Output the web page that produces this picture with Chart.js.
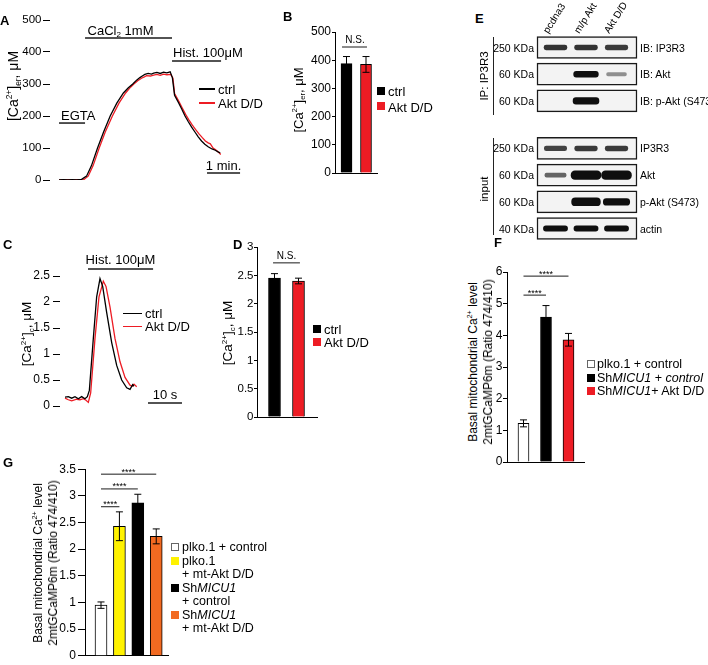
<!DOCTYPE html>
<html><head><meta charset="utf-8">
<script src="https://cdn.jsdelivr.net/npm/chart.js@4.4.1/dist/chart.umd.min.js"></script>
<style>
html,body{margin:0;padding:0;background:#fff}
body{width:708px;height:665px;position:relative;overflow:hidden;font-family:'Liberation Sans',Arial,Helvetica,sans-serif;color:#000}
canvas{position:absolute}
.t{position:absolute;white-space:nowrap}
sup{font-size:0.6em;vertical-align:0.7em;line-height:0}
sub{font-size:0.6em;vertical-align:-0.3em;line-height:0}
.sw{position:absolute;box-sizing:border-box}
</style></head><body>
<script>
// ================= DATA =================
// A: ER Ca2+ traces (time in s, [Ca2+]er in uM)
const aTicks=[0,100,200,300,400,500];
const aCtrlTime=[0,8,16,24,32,41,50,59,70,81,93,105,117,126,134,141,147,152,156,162,168,172,178,184,190,196,202,206,210,217,223,229,235,241,247,253,259,265,271,278,284,289,293];
const aCtrlCa  =[0,1,0,1,0,2,12,45,100,150,200,240,272,288,300,312,320,326,330,333,331,334,336,333,337,335,338,320,265,242,222,200,182,165,150,135,122,112,104,97,93,88,85];
const aAktTime =[0,8,16,24,32,44,53,62,73,84,97,109,121,130,136,143,150,155,159,166,172,178,184,190,196,203,207,210,218,224,230,236,242,248,254,260,266,271,275,280,284,289,294];
const aAktCa   =[0,0,1,0,1,0,12,45,100,150,200,240,272,290,300,310,318,322,326,325,328,330,327,331,329,330,318,270,245,225,205,188,172,158,145,133,122,116,113,100,95,88,80];
// B
const bCategories=['ctrl','Akt D/D'];
const bMeans=[388,385];
const bErr=[25,28];
const bTicks=[0,100,200,300,400,500];
// C: cytosolic Ca2+ traces (time in s, uM)
const cTicks=[0,0.5,1,1.5,2,2.5];
const cCtrlTime=[0,0.98,1.96,2.94,3.92,4.9,5.88,6.57,7.16,8.33,9.31,10.29,11.08,12.25,13.73,15.2,16.67,18.14,19.12,19.9,20.3];
const cCtrlCa  =[0.17,0.18,0.15,0.18,0.14,0.18,0.14,0.18,0.3,1.3,2.1,2.45,2.3,1.8,1.22,0.78,0.5,0.35,0.32,0.41,0.38];
const cAktTime =[0,0.98,1.96,3.43,4.41,5.39,6.18,6.86,7.55,8.82,10,11.27,12.06,13.24,14.7,16.18,17.65,19.12,19.8,20.3,21.08];
const cAktCa   =[0.15,0.12,0.1,0.13,0.12,0.14,0.11,0.07,0.25,1.3,2.1,2.4,2.3,1.9,1.3,0.85,0.55,0.4,0.38,0.42,0.37];
// D
const dCategories=['ctrl','Akt D/D'];
const dMeans=[2.45,2.40];
const dErr=[0.08,0.05];
const dTicks=[0,0.5,1,1.5,2,2.5,3];
// E: western blot (relative band signal per lane; 0 = no band, >1 saturated)
const lanes=['pcdna3','m/p Akt','Akt D/D'];
const blotRows=['IB: IP3R3','IB: Akt','IB: p-Akt (S473)','IP3R3','Akt','p-Akt (S473)','actin'];
const blotMarkers=['250 KDa','60 KDa','60 KDa','250 KDa','60 KDa','60 KDa','40 KDa'];
const blotGroups=['IP: IP3R3','input'];
const pcdna3Signal=[0.8,0,0,0.7,0.5,0,1.0];
const mpAktSignal =[0.8,1.1,1.3,0.75,2.0,1.8,1.0];
const aktDDSignal =[0.75,0.25,0,0.75,2.0,1.4,1.0];
// F
const fCategories=['plko.1 + control','Sh<i>MICU1</i> + <i>control</i>','Sh<i>MICU1</i>+ Akt D/D'];
const fMeans=[1.22,4.58,3.86];
const fErr=[0.11,0.36,0.2];
const fTicks=[0,1,2,3,4,5,6];
const fSignificance=[[0,2,'****'],[0,1,'****']];
// G
const gCategories=[['plko.1 + control'],['plko.1','+ mt-Akt D/D'],['Sh<i>MICU1</i>','+ control'],['Sh<i>MICU1</i>','+ mt-Akt D/D']];
const gMeans=[0.95,2.43,2.87,2.24];
const gErr=[0.06,0.27,0.16,0.14];
const gTicks=[0,0.5,1,1.5,2,2.5,3,3.5];
const gSignificance=[[0,3,'****'],[0,2,'****'],[0,1,'****']];

// ================= STYLE =================
const FONT="'Liberation Sans', Arial, Helvetica, sans-serif";
const RED='#ed1c24', BLACK='#000000', WHITE='#ffffff', YELLOW='#fff200', ORANGE='#f26a21';
Chart.defaults.font.family=FONT;
Chart.defaults.color='#000';

// ================= PLUGINS =================
const errorBars={id:'errorBars',afterDatasetsDraw(chart){
  const ctx=chart.ctx, ys=chart.scales.y;
  chart.data.datasets.forEach((ds,di)=>{
    if(!ds.errors) return;
    const meta=chart.getDatasetMeta(di);
    meta.data.forEach((el,i)=>{
      const v=ds.data[i].y, e=ds.errors[i];
      const x=el.x, yt=ys.getPixelForValue(v+e), yb=ys.getPixelForValue(v-e), cw=ds.capWidth||3.5;
      ctx.save(); ctx.strokeStyle='#000'; ctx.lineWidth=1;
      ctx.beginPath(); ctx.moveTo(x,yb); ctx.lineTo(x,yt);
      ctx.moveTo(x-cw,yt); ctx.lineTo(x+cw,yt); ctx.moveTo(x-cw,yb); ctx.lineTo(x+cw,yb);
      ctx.stroke(); ctx.restore();
    });
  });
}};
const anno={id:'anno',afterDatasetsDraw(chart,args,opts){
  const ctx=chart.ctx, xs=chart.scales.x, ys=chart.scales.y;
  ctx.save();
  for(const l of (opts.lines||[])){
    ctx.strokeStyle=l.c||'#1a1a1a'; ctx.lineWidth=l.w||1.5;
    const y=ys.getPixelForValue(l.y);
    ctx.beginPath(); ctx.moveTo(xs.getPixelForValue(l.x1),y); ctx.lineTo(xs.getPixelForValue(l.x2),y); ctx.stroke();
  }
  for(const t of (opts.texts||[])){
    const fs=t.size||13;
    const segs=(Array.isArray(t.text)?t.text:[{s:t.text}]).map(g=>Object.assign({},g));
    let tot=0;
    for(const g of segs){ctx.font=(g.sub?fs*0.62:fs)+'px '+FONT; g.w=ctx.measureText(g.s).width; tot+=g.w;}
    let x=xs.getPixelForValue(t.x); const y=ys.getPixelForValue(t.y)+(t.dy||0);
    if(t.align==='center') x-=tot/2; else if(t.align==='right') x-=tot;
    ctx.fillStyle='#000'; ctx.textAlign='left'; ctx.textBaseline=t.baseline||'middle';
    for(const g of segs){ctx.font=(g.sub?fs*0.62:fs)+'px '+FONT; ctx.fillText(g.s,x,y+(g.sub?fs*0.28:0)); x+=g.w;}
  }
  ctx.restore();
}};
const blurBands={id:'blurBands',
  beforeDatasetDraw(chart,args){const ds=chart.data.datasets[args.index]; if(ds.blur){chart.ctx.save(); chart.ctx.filter='blur('+ds.blur+'px)';}},
  afterDatasetDraw(chart,args){const ds=chart.data.datasets[args.index]; if(ds.blur) chart.ctx.restore();}};

// ================= HELPERS =================
function place(box,area){
  const c=document.createElement('canvas');
  c.width=box[2]; c.height=box[3];
  Object.assign(c.style,{left:box[0]+'px',top:box[1]+'px',width:box[2]+'px',height:box[3]+'px'});
  document.body.appendChild(c);
  return {cv:c,padding:{left:0,top:area.t-box[1],right:box[0]+box[2]-area.r,bottom:box[1]+box[3]-area.b},yw:area.l-box[0]};
}
function baseOpts(padding,scales,plugins){
  return {responsive:false,maintainAspectRatio:false,animation:false,devicePixelRatio:1,events:[],layout:{padding},scales,
    plugins:Object.assign({legend:{display:false},tooltip:{enabled:false}},plugins||{})};
}
function yScale(min,max,ticks,width,o){
  return {type:'linear',min,max,position:'left',
    afterBuildTicks:s=>{s.ticks=ticks.map(v=>({value:v}));},
    afterFit:s=>{s.width=width;},
    border:{display:o.axis,color:'#000',width:1},
    grid:{display:true,drawOnChartArea:false,drawTicks:true,tickLength:o.tl,color:'#000',lineWidth:1},
    ticks:{font:{size:o.fs},color:'#000',padding:o.pad,callback:v=>String(v)}};
}
function xHidden(min,max){return {type:'linear',min,max,display:false,offset:false};}
function xAxisLine(min,max){return {type:'linear',min,max,offset:false,afterFit:s=>{s.height=0;},
  border:{display:true,color:'#000',width:1},grid:{display:false},ticks:{display:false}};}
const pts=(xs,ys)=>xs.map((t,i)=>({x:t,y:ys[i]}));
const bars=(vals)=>vals.map((v,i)=>({x:i,y:v}));
function T(x,y,html,o){
  o=o||{};
  const d=document.createElement('div'); d.className='t'; d.innerHTML=html;
  const fs=o.fs||13; d.style.fontSize=fs+'px'; d.style.lineHeight=fs+'px';
  if(o.b) d.style.fontWeight='bold';
  d.style.left=x+'px'; d.style.top=y+'px';
  const ax=o.al==='r'?'-100%':o.al==='c'?'-50%':'0';
  d.style.transform=(o.rot!=null)?'translate(-50%,-50%) rotate('+o.rot+'deg)':'translate('+ax+',-50%)';
  if(o.tf){d.style.transform=o.tf; d.style.transformOrigin=o.to||'0 0';}
  document.body.appendChild(d); return d;
}
function R(x,y,w,h,bg,border){
  const d=document.createElement('div'); d.className='sw';
  Object.assign(d.style,{left:x+'px',top:y+'px',width:w+'px',height:h+'px',background:bg});
  if(border) d.style.border=border;
  document.body.appendChild(d);
}
const caEr='[Ca<sup>2+</sup>]<sub>er</sub>, μM', caC='[Ca<sup>2+</sup>]<sub>c</sub>, μM';

// ================= PANEL A =================
(function(){
  const p=place([0,0,245,195],{l:50,t:20,r:245,b:180});
  new Chart(p.cv,{type:'line',
    data:{datasets:[
      {label:'ctrl',data:pts(aCtrlTime,aCtrlCa),borderColor:BLACK,borderWidth:1.3,pointRadius:0,tension:0},
      {label:'Akt D/D',data:pts(aAktTime,aAktCa),borderColor:RED,borderWidth:1.3,pointRadius:0,tension:0}]},
    options:baseOpts(p.padding,{x:xHidden(-16.4,338),y:yScale(0,500,aTicks,p.yw,{axis:false,tl:7,fs:11.5,pad:1.5})},
      {anno:{lines:[{x1:0,x2:47.3,y:178},{x1:47.3,x2:205.4,y:443.75},{x1:205.4,x2:294.5,y:371.9},{x1:269,x2:329,y:21.9}],
        texts:[{x:3.6,y:200,text:'EGTA'},
               {x:111.8,y:465.6,text:[{s:'CaCl'},{s:'2',sub:true},{s:' 1mM'}],align:'center'},
               {x:207.3,y:396.9,text:'Hist. 100μM'},
               {x:299,y:43.75,text:'1 min.',align:'center'}]}}),
    plugins:[anno]});
  T(0,20,'A',{b:true,fs:13});
  T(13,86,caEr,{fs:14,rot:-90});
  R(199,88,16,1.5,BLACK); T(218,89,'ctrl');
  R(199,102,16,1.5,RED); T(218,103,'Akt D/D');
})();

// ================= PANEL B =================
(function(){
  const p=place([300,20,82,165],{l:335,t:32,r:377,b:173});
  new Chart(p.cv,{type:'bar',
    data:{datasets:[{data:bars(bMeans),backgroundColor:[BLACK,RED],borderColor:'#000',borderWidth:1,barThickness:11,errors:bErr}]},
    options:baseOpts(p.padding,{x:xAxisLine(-0.59,1.564),y:yScale(0,500,bTicks,p.yw,{axis:true,tl:3,fs:12,pad:1})},
      {anno:{lines:[{x1:-0.23,x2:1.05,y:446.8,w:1}],texts:[{x:0.436,y:470,text:'N.S.',size:10,align:'center'}]}}),
    plugins:[errorBars,anno]});
  T(283,16,'B',{b:true,fs:13});
  T(298,100,caEr,{fs:13,rot:-90});
  R(377,87,8,8,BLACK); T(388,91,bCategories[0]);
  R(377,102,8,8,RED); T(388,106.5,bCategories[1]);
})();

// ================= PANEL C =================
(function(){
  const p=place([0,245,195,175],{l:60,t:276,r:190,b:406});
  new Chart(p.cv,{type:'line',
    data:{datasets:[
      {label:'ctrl',data:pts(cCtrlTime,cCtrlCa),borderColor:BLACK,borderWidth:1.3,pointRadius:0,tension:0},
      {label:'Akt D/D',data:pts(cAktTime,cAktCa),borderColor:RED,borderWidth:1.3,pointRadius:0,tension:0}]},
    options:baseOpts(p.padding,{x:xHidden(-1.47,36.76),y:yScale(0,2.5,cTicks,p.yw,{axis:false,tl:7,fs:12,pad:3})},
      {anno:{lines:[{x1:6.76,x2:25.9,y:2.635},{x1:24.4,x2:34.4,y:0.058}],
        texts:[{x:16.3,y:2.79,text:'Hist. 100μM',align:'center'},{x:29.4,y:0.21,text:'10 s',align:'center'}]}}),
    plugins:[anno]});
  T(3,244,'C',{b:true,fs:13});
  T(27,334,caC,{fs:13.5,rot:-90});
  R(123,312.5,19,1.5,BLACK); T(145,313,'ctrl');
  R(123,325.5,19,1.5,RED); T(145,326,'Akt D/D');
})();

// ================= PANEL D =================
(function(){
  const p=place([232,238,90,190],{l:257,t:247,r:317,b:417});
  new Chart(p.cv,{type:'bar',
    data:{datasets:[{data:bars(dMeans),backgroundColor:[BLACK,RED],borderColor:'#000',borderWidth:1,barThickness:12,errors:dErr}]},
    options:baseOpts(p.padding,{x:xAxisLine(-0.729,1.771),y:yScale(0,3,dTicks,p.yw,{axis:true,tl:3,fs:11.5,pad:0.5})},
      {anno:{lines:[{x1:-0.06,x2:1.06,y:2.72,w:1}],texts:[{x:0.5,y:2.83,text:'N.S.',size:10,align:'center'}]}}),
    plugins:[errorBars,anno]});
  T(233,244,'D',{b:true,fs:13});
  T(228,333,caC,{fs:13.5,rot:-90});
  R(313,324.5,8,8,BLACK); T(324,328.5,dCategories[0]);
  R(313,338,8,8,RED); T(324,342,dCategories[1]);
})();

// ================= PANEL E (blot) =================
(function(){
  const rowY=i=>i+(i>=3?0.78:0);
  const rowPx=i=>47.5+26.7*rowY(i);
  const laneSignals=[pcdna3Signal,mpAktSignal,aktDDSignal];
  const ds=[{data:blotRows.map((r,i)=>({x:[-0.607,2.672],y:rowY(i)})),backgroundColor:'#f3f3f3',borderColor:'#1a1a1a',
    borderWidth:1.5,borderSkipped:false,barThickness:22,grouped:false,order:10}];
  laneSignals.forEach((sig,L)=>sig.forEach((s,i)=>{
    if(s<=0) return;
    const w=0.6+0.19*s, th=2.5+3*s;
    ds.push({data:[{x:[L-w/2,L+w/2],y:rowY(i)}],backgroundColor:'rgba(15,15,15,'+Math.min(1,0.25+0.75*s)+')',
      borderWidth:0,barThickness:th,borderRadius:th/2,borderSkipped:false,grouped:false,order:0,blur:0.7});
  }));
  const c=document.createElement('canvas'); c.width=115; c.height=215;
  Object.assign(c.style,{left:'530px',top:'30px',width:'115px',height:'215px'});
  document.body.appendChild(c);
  new Chart(c,{type:'bar',data:{labels:blotRows,datasets:ds},
    options:{indexAxis:'y',responsive:false,animation:false,devicePixelRatio:1,events:[],layout:{padding:0},
      scales:{x:{type:'linear',min:-0.836,max:2.934,display:false,offset:false},
              y:{type:'linear',min:-0.655,max:7.397,reverse:true,display:false,offset:false}},
      plugins:{legend:{display:false},tooltip:{enabled:false}}},
    plugins:[blurBands]});
  T(475,18,'E',{b:true,fs:13});
  blotRows.forEach((r,i)=>{T(534,rowPx(i),blotMarkers[i],{fs:10.5,al:'r'}); T(640,rowPx(i),r,{fs:10.5});});
  lanes.forEach((l,L)=>{const x=550+30.5*L; T(x,25,l,{fs:10,tf:'rotate(-58deg)',to:'0 100%'});});
  T(485,76,blotGroups[0],{fs:11.5,rot:-90});
  T(485,189,blotGroups[1],{fs:11.5,rot:-90});
  R(492.5,37,1.5,78,'#222'); R(492.5,138,1.5,97,'#222');
})();

// ================= PANEL F =================
(function(){
  const p=place([490,262,100,210],{l:507,t:272,r:584,b:462});
  const sigY=[5.87,5.27];
  new Chart(p.cv,{type:'bar',
    data:{datasets:[{data:bars(fMeans),backgroundColor:[WHITE,BLACK,RED],borderColor:'#000',borderWidth:1,barThickness:11,errors:fErr}]},
    options:baseOpts(p.padding,{x:xAxisLine(-0.733,2.689),y:yScale(0,6,fTicks,p.yw,{axis:true,tl:4,fs:12,pad:0.5})},
      {anno:{lines:fSignificance.map((s,k)=>({x1:s[0],x2:s[1],y:sigY[k],w:1})),
        texts:fSignificance.map((s,k)=>({x:(s[0]+s[1])/2,y:sigY[k],text:s[2],size:9,align:'center',baseline:'alphabetic',dy:0.5}))}}),
    plugins:[errorBars,anno]});
  T(494,242,'F',{b:true,fs:13});
  T(473,362,'Basal mitochondrial Ca<sup>2+</sup> level',{fs:12,rot:-90});
  T(488,362,'2mtGCaMP6m (Ratio 474/410)',{fs:12,rot:-90});
  const ly=[364,377.7,390.7], cols=[WHITE,BLACK,RED];
  fCategories.forEach((c,i)=>{R(587,ly[i]-4,8,8,cols[i],i===0?'1px solid #666':null); T(597,ly[i],c,{fs:12.5});});
})();

// ================= PANEL G =================
(function(){
  const p=place([55,460,120,205],{l:85,t:468,r:168,b:657});
  const sigY=[3.407,3.13,2.796];
  new Chart(p.cv,{type:'bar',
    data:{datasets:[{data:bars(gMeans),backgroundColor:[WHITE,YELLOW,BLACK,ORANGE],borderColor:'#000',borderWidth:1,barThickness:12,errors:gErr}]},
    options:baseOpts(p.padding,{x:xAxisLine(-0.87,3.64),y:yScale(0,3.5,gTicks,p.yw,{axis:true,tl:7,fs:12,pad:2})},
      {anno:{lines:gSignificance.map((s,k)=>({x1:s[0],x2:s[1],y:sigY[k],w:1})),
        texts:gSignificance.map((s,k)=>({x:(s[0]+s[1])/2,y:sigY[k],text:s[2],size:9,align:'center',baseline:'alphabetic',dy:0.5}))}}),
    plugins:[errorBars,anno]});
  T(3,462,'G',{b:true,fs:13});
  T(38,563,'Basal mitochondrial Ca<sup>2+</sup> level',{fs:12,rot:-90});
  T(53,563,'2mtGCaMP6m (Ratio 474/410)',{fs:12,rot:-90});
  const cols=[WHITE,YELLOW,BLACK,ORANGE];
  let y=547;
  gCategories.forEach((lines,i)=>{
    R(171,y-4,8,8,cols[i],i===0?'1px solid #666':null);
    lines.forEach(l=>{T(182,y,l,{fs:12.5}); y+=13.5;});
  });
})();
</script>
</body></html>
